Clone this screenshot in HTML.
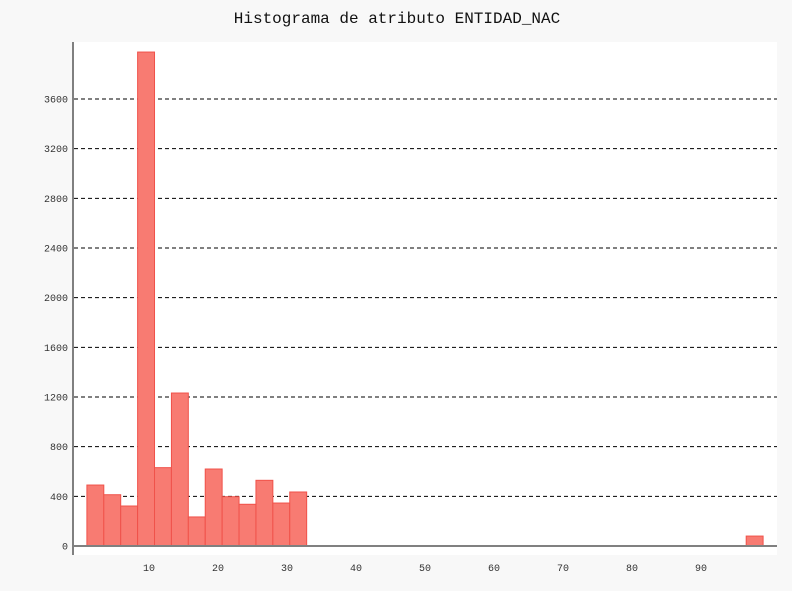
<!DOCTYPE html>
<html><head><meta charset="utf-8"><style>
body{margin:0;background:#f8f8f8;}
svg{display:block;font-family:"Liberation Mono",monospace;}
</style></head><body>
<svg id="chart" width="792" height="591">
<rect x="0" y="0" width="792" height="591" fill="#f8f8f8"/>
<text x="397" y="23" text-anchor="middle" font-size="16" fill="#111">Histograma de atributo ENTIDAD_NAC</text>
<rect x="73" y="42" width="704" height="513" fill="#fff"/>
<g id="grid"></g><g id="bars"></g><g id="axes"></g>
</svg>
<script>
const binStart = 1;
const binWidth = 2.45;
const counts = [491,413,322,3978,631,1232,234,620,397,336,529,346,435,0,0,0,0,0,0,0,0,0,0,0,0,0,0,0,0,0,0,0,0,0,0,0,0,0,0,80];
const yTicks = [0,400,800,1200,1600,2000,2400,2800,3200,3600];
const xTicks = [10,20,30,40,50,60,70,80,90];
const NS="http://www.w3.org/2000/svg";
function xs(v){return 80+(v)*6.9;}
function ys(v){return 546-v*0.12417;}
function mk(t,a,p){const e=document.createElementNS(NS,t);for(const k in a)e.setAttribute(k,a[k]);p.appendChild(e);return e;}
const grid=document.getElementById('grid'),bars=document.getElementById('bars'),axes=document.getElementById('axes');
yTicks.forEach(v=>{
  if(v>0){const l=mk('line',{x1:74,x2:777,y1:ys(v),y2:ys(v),stroke:'#000','stroke-dasharray':'4,3','stroke-width':1},grid);
  
  }
  const t=mk('text',{x:68,y:ys(v)+3.5,'text-anchor':'end','font-size':10,fill:'#333'},axes);
  t.textContent=v;
  
  
});
counts.forEach((c,i)=>{
  if(c<=0)return;
  const x0=xs(binStart+i*binWidth),x1=xs(binStart+(i+1)*binWidth);
  const r=mk('rect',{x:x0,y:ys(c),width:x1-x0,height:ys(0)-ys(c),fill:'#f87b72',stroke:'#f0524a','stroke-width':1},bars);
  
  
});
xTicks.forEach(v=>{
  const t=mk('text',{x:xs(v),y:571,'text-anchor':'middle','font-size':10,fill:'#333'},axes);
  t.textContent=v;
  
  
});
const ya=mk('line',{x1:73,x2:73,y1:42,y2:555,stroke:'#808080','stroke-width':2},axes);


const xa=mk('line',{x1:72,x2:777,y1:546,y2:546,stroke:'#808080','stroke-width':2},axes);


</script>
</body></html>
